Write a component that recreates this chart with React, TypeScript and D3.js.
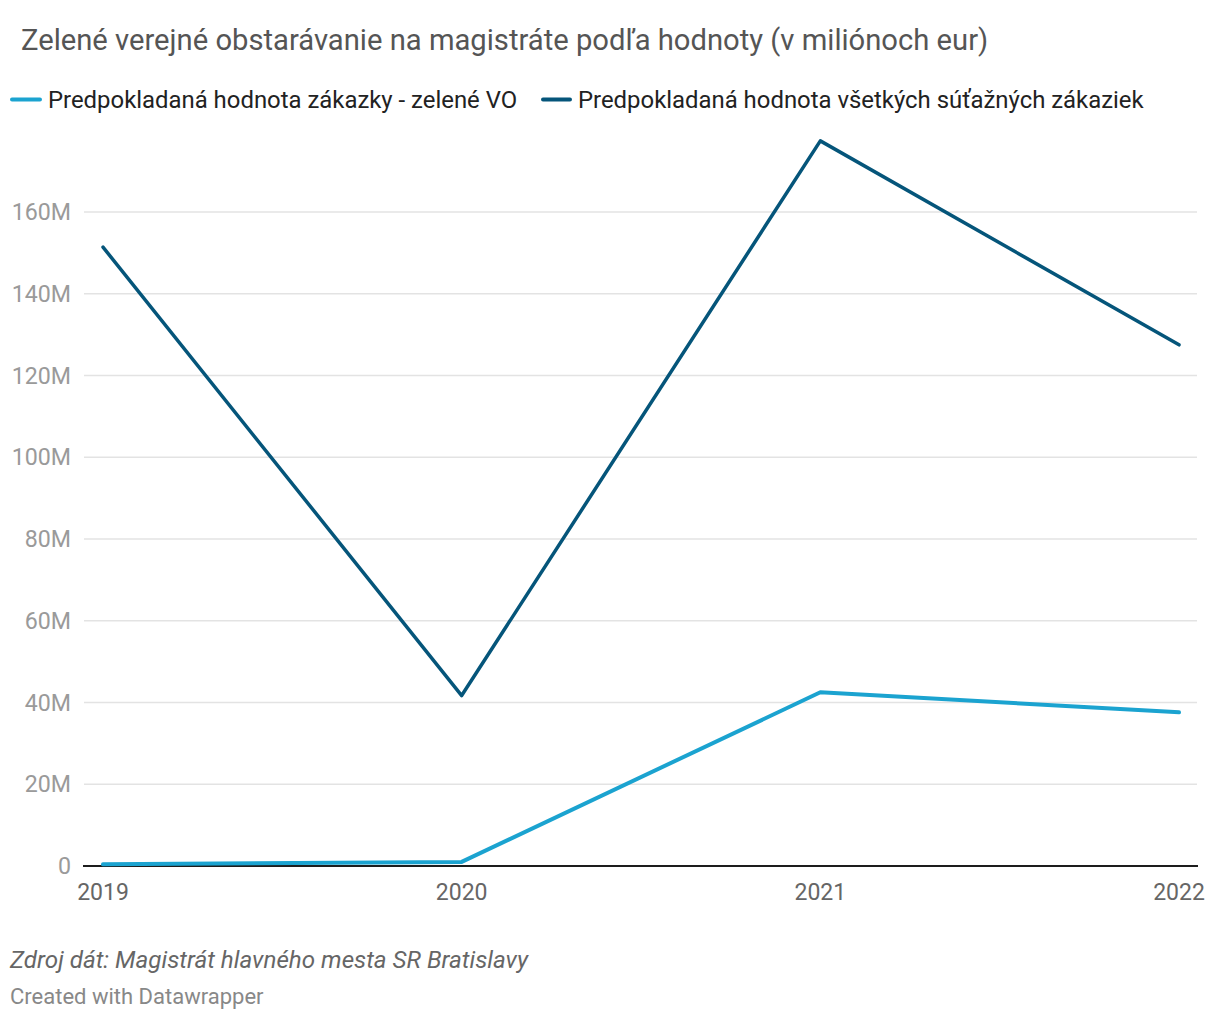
import React from 'react';
import * as d3 from 'd3';

const years = ['2019', '2020', '2021', '2022'];
const greenValues = [0.4, 1.0, 42.5, 37.6];
const allValues = [151.4, 41.7, 177.4, 127.5];
const yTicks = [0, 20, 40, 60, 80, 100, 120, 140, 160];

const title = 'Zelené verejné obstarávanie na magistráte podľa hodnoty (v miliónoch eur)';
const seriesNames = [
  'Predpokladaná hodnota zákazky - zelené VO',
  'Predpokladaná hodnota všetkých súťažných zákaziek',
];
const source = 'Zdroj dát: Magistrát hlavného mesta SR Bratislavy';
const credit = 'Created with Datawrapper';

const LIGHT = '#1ba3d0';
const DARK = '#05557a';

const width = 1220;
const height = 1020;
const font = 'Roboto, sans-serif';

const App = () => {
  // scales
  const x = d3.scalePoint().domain(years).range([103, 1179]);
  const y = d3.scaleLinear().domain([0, 160]).range([866, 212]);

  const line = d3.line<number>()
    .x((d, i) => x(years[i]) as number)
    .y(d => y(d));

  const series = [
    { name: seriesNames[1], values: allValues, color: DARK, w: 3.5 },
    { name: seriesNames[0], values: greenValues, color: LIGHT, w: 4 },
  ];

  return (
    <div style={{ position: 'absolute', left: 0, top: 0 }}>
      <svg width={width} height={height} style={{ display: 'block', background: '#fff' }}>
        <text x={21} y={50} fontFamily={font} fontSize={29.2} fill="#555">{title}</text>

        {/* legend */}
        <g fontFamily={font} fontSize={23.9} fill="#222">
          <line x1={12} x2={40} y1={99.5} y2={99.5} stroke={LIGHT} strokeWidth={4} strokeLinecap="round" />
          <text x={48} y={107.5}>{seriesNames[0]}</text>
          <line x1={543} x2={570} y1={99.5} y2={99.5} stroke={DARK} strokeWidth={4} strokeLinecap="round" />
          <text x={578} y={107.5}>{seriesNames[1]}</text>
        </g>

        {/* grid + y labels */}
        {yTicks.map(t => (
          <g key={t}>
            {t !== 0 && (
              <line x1={84} x2={1197} y1={y(t)} y2={y(t)} stroke="#e3e3e3" strokeWidth={1.5} />
            )}
            <text x={71} y={y(t)} dy="0.35em" textAnchor="end" fontFamily={font} fontSize={23.2} fill="#9a9a9a">
              {t === 0 ? '0' : `${t}M`}
            </text>
          </g>
        ))}

        {/* x labels */}
        {years.map(yr => (
          <text key={yr} x={x(yr)} y={900} textAnchor="middle" fontFamily={font} fontSize={23} fill="#666">
            {yr}
          </text>
        ))}

        <line x1={83} x2={1198} y1={y(0)} y2={y(0)} stroke="#1d1d1d" strokeWidth={2} />

        {series.map(s => (
          <path key={s.name} d={line(s.values) || ''} fill="none" stroke={s.color}
            strokeWidth={s.w} strokeLinejoin="round" strokeLinecap="round" />
        ))}

        <text x={10} y={968} fontFamily={font} fontSize={24.2} fontStyle="italic" fill="#666">{source}</text>
        <text x={10} y={1004} fontFamily={font} fontSize={22} fill="#888">{credit}</text>
      </svg>
    </div>
  );
};

export default App;
